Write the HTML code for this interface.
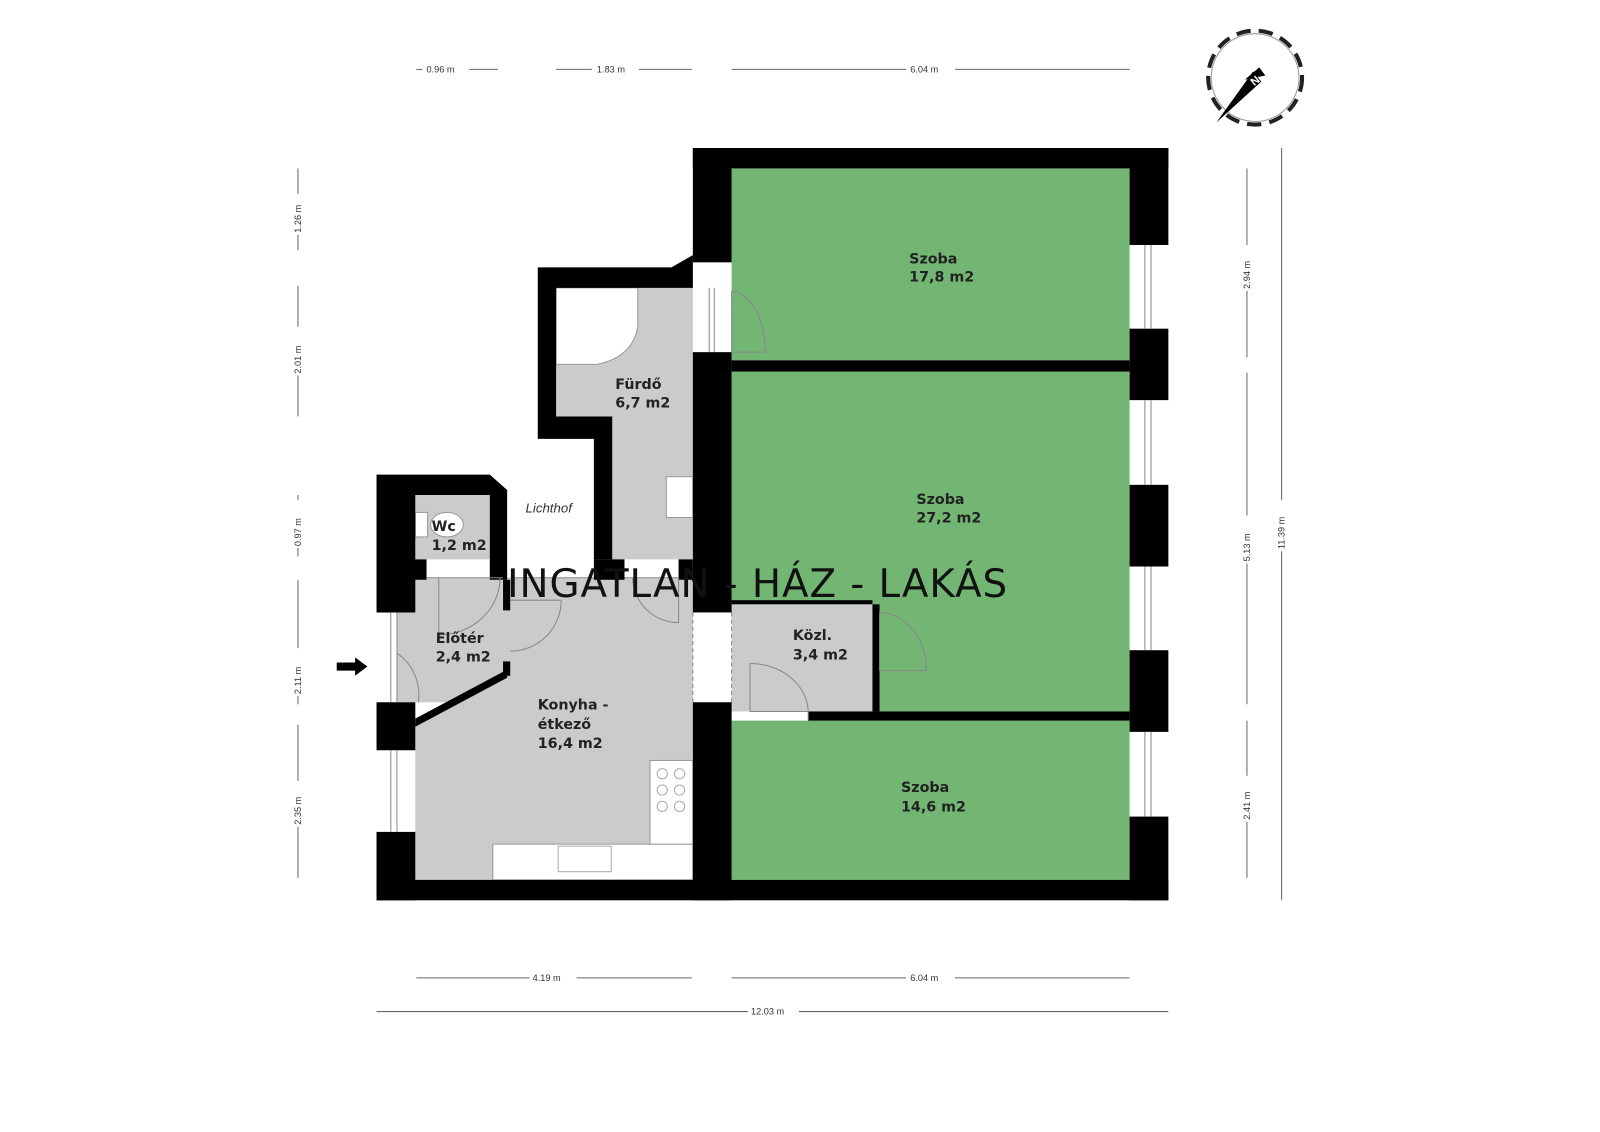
<!DOCTYPE html>
<html><head><meta charset="utf-8"><style>
html,body{margin:0;padding:0;background:#fff;}
svg{display:block;}
.dim{font-family:"Liberation Sans",sans-serif;font-size:9px;fill:#333;}
.lbl{font-family:"DejaVu Sans","Liberation Sans",sans-serif;font-weight:bold;font-size:14px;fill:#222;}
</style></head><body>
<svg width="1600" height="1132" viewBox="0 0 1568 1109" preserveAspectRatio="none" xmlns="http://www.w3.org/2000/svg">
<rect width="1568" height="1109" fill="#fff"/>
<!-- gray floor areas -->
<g fill="#cbcbcb">
<polygon points="545,282 679,282 679,548 600,548 600,408 545,408"/>
<polygon points="407,485 480,485 480,548 407,548"/>
<rect x="389" y="566" width="110" height="122"/>
<polygon points="497,566 679,566 679,862 407,862 407,710 497,660"/>
<rect x="717" y="592" width="138" height="105"/>
</g>
<!-- green rooms -->
<g fill="#73b673">
<rect x="717" y="165" width="390" height="188"/>
<polygon points="717,364 1107,364 1107,697 862,697 862,592 717,592"/>
<rect x="717" y="706" width="390" height="156"/>
</g>
<!-- fixtures -->
<rect x="483" y="827" width="196" height="35" fill="#fff" stroke="#999" stroke-width="1"/>
<rect x="547" y="829" width="52" height="25" fill="#fff" stroke="#aaa"/>
<rect x="637" y="745" width="42" height="82" fill="#fff" stroke="#999"/>
<g fill="none" stroke="#aaa"><circle cx="649" cy="758" r="5"/><circle cx="666" cy="758" r="5"/><circle cx="649" cy="774" r="5"/><circle cx="666" cy="774" r="5"/><circle cx="649" cy="790" r="5"/><circle cx="666" cy="790" r="5"/></g>
<path d="M545,282 L625,282 L625,320 Q620,350 585,357 L545,357 Z" fill="#fff" stroke="#999"/>
<rect x="653" y="467" width="26" height="40" fill="#fff" stroke="#999"/>
<ellipse cx="438" cy="514" rx="16" ry="12" fill="#fff" stroke="#999"/>
<rect x="407" y="502" width="12" height="24" fill="#fff" stroke="#999"/>
<!-- walls -->
<g fill="#000">
<rect x="679" y="145" width="466" height="20"/>
<rect x="679" y="145" width="38" height="112"/>
<polygon points="527,262 658,262 679,250 679,282 545,282 545,408 600,408 600,548 582,548 582,430 527,430"/>
<rect x="679" y="345" width="38" height="255"/>
<rect x="679" y="688" width="38" height="194"/>
<rect x="369" y="862" width="776" height="20"/>
<rect x="1107" y="145" width="38" height="95"/>
<rect x="1107" y="322" width="38" height="70"/>
<rect x="1107" y="475" width="38" height="80"/>
<rect x="1107" y="637" width="38" height="80"/>
<rect x="1107" y="800" width="38" height="82"/>
<rect x="717" y="353" width="390" height="11"/>
<rect x="792" y="697" width="315" height="9"/>
<rect x="855" y="592" width="7" height="105"/>
<rect x="717" y="588" width="138" height="4"/>
<polygon points="369,465 480,465 497,480 497,568 480,568 480,485 407,485 407,548 418,548 418,568 407,568 407,600 369,600"/>
<rect x="582" y="548" width="30" height="20"/>
<rect x="665" y="548" width="14" height="20"/>
<rect x="493" y="568" width="7" height="30"/>
<rect x="493" y="648" width="7" height="14"/>
<polygon points="407,704 497,656 497,664 407,712"/>
<rect x="369" y="688" width="38" height="47"/>
<rect x="369" y="815" width="38" height="67"/>
</g>
<!-- windows -->
<g stroke="#888" stroke-width="1" fill="none">
<line x1="1122" y1="240" x2="1122" y2="322"/><line x1="1128" y1="240" x2="1128" y2="322"/>
<line x1="1122" y1="392" x2="1122" y2="475"/><line x1="1128" y1="392" x2="1128" y2="475"/>
<line x1="1122" y1="555" x2="1122" y2="637"/><line x1="1128" y1="555" x2="1128" y2="637"/>
<line x1="1122" y1="717" x2="1122" y2="800"/><line x1="1128" y1="717" x2="1128" y2="800"/>
<line x1="383" y1="735" x2="383" y2="815"/><line x1="389" y1="735" x2="389" y2="815"/>
<line x1="383" y1="600" x2="383" y2="688"/><line x1="389" y1="600" x2="389" y2="688"/>
<line x1="418" y1="566" x2="493" y2="566"/><line x1="500" y1="566" x2="582" y2="566"/><line x1="612" y1="566" x2="665" y2="566"/>
<line x1="679" y1="600" x2="679" y2="688" stroke-dasharray="4,3"/><line x1="717" y1="600" x2="717" y2="688" stroke-dasharray="4,3"/>
<line x1="695" y1="282" x2="695" y2="345"/><line x1="700" y1="282" x2="700" y2="345"/>
<!-- door arcs -->
<path d="M717,285 L717,345 L750,345 A 35 60 0 0 0 717,285"/>
<path d="M862,600 L862,657 L908,657 A 46 57 0 0 0 862,600"/>
<path d="M735,650 L735,697 L792,697 L792,705 M735,650 A 57 48 0 0 1 792,697"/>
<path d="M430,566 L430,622 M430,622 A 60 56 0 0 0 490,566"/>
<path d="M500,588 L550,588 A 50 50 0 0 1 500,638"/>
<path d="M620,566 A 45 45 0 0 0 665,610 L665,566"/>
<path d="M389,640 A 45 48 0 0 1 410,688"/>
</g>
<!-- labels -->
<text class="lbl" x="891" y="258">Szoba</text><text class="lbl" x="891" y="276">17,8 m2</text>
<text class="lbl" x="603" y="381">Fürdő</text><text class="lbl" x="603" y="399">6,7 m2</text>
<text class="lbl" x="898" y="494">Szoba</text><text class="lbl" x="898" y="512">27,2 m2</text>
<text class="lbl" x="423" y="520" font-size="13">Wc</text><text class="lbl" x="423" y="539">1,2 m2</text>
<text class="lbl" x="427" y="630">Előtér</text><text class="lbl" x="427" y="648">2,4 m2</text>
<text class="lbl" x="777" y="627">Közl.</text><text class="lbl" x="777" y="646">3,4 m2</text>
<text class="lbl" x="527" y="695">Konyha -</text><text class="lbl" x="527" y="714">étkező</text><text class="lbl" x="527" y="733">16,4 m2</text>
<text class="lbl" x="883" y="776">Szoba</text><text class="lbl" x="883" y="795">14,6 m2</text>
<text x="515" y="502" font-family="Liberation Sans,sans-serif" font-style="italic" font-size="13" fill="#333">Lichthof</text>
<text x="497" y="585" font-family="DejaVu Sans,Liberation Sans,sans-serif" font-size="38" fill="#111" textLength="490">INGATLAN - HÁZ - LAKÁS</text>
<!-- entrance arrow -->
<polygon points="330,649 348,649 348,644 360,653 348,662 348,657 330,657" fill="#000"/>
<!-- dimensions -->
<g stroke="#666" stroke-width="1">
<line x1="408" y1="68" x2="414" y2="68"/><line x1="460" y1="68" x2="488" y2="68"/>
<line x1="545" y1="68" x2="580" y2="68"/><line x1="626" y1="68" x2="678" y2="68"/>
<line x1="717" y1="68" x2="888" y2="68"/><line x1="936" y1="68" x2="1107" y2="68"/>
<line x1="408" y1="958" x2="519" y2="958"/><line x1="565" y1="958" x2="678" y2="958"/>
<line x1="717" y1="958" x2="888" y2="958"/><line x1="936" y1="958" x2="1107" y2="958"/>
<line x1="369" y1="991" x2="733" y2="991"/><line x1="783" y1="991" x2="1145" y2="991"/>
<line x1="292" y1="165" x2="292" y2="190"/><line x1="292" y1="230" x2="292" y2="245"/>
<line x1="292" y1="280" x2="292" y2="320"/><line x1="292" y1="368" x2="292" y2="408"/>
<line x1="292" y1="485" x2="292" y2="490"/><line x1="292" y1="537" x2="292" y2="545"/>
<line x1="292" y1="568" x2="292" y2="635"/><line x1="292" y1="682" x2="292" y2="690"/>
<line x1="292" y1="710" x2="292" y2="765"/><line x1="292" y1="810" x2="292" y2="860"/>
<line x1="1222" y1="165" x2="1222" y2="240"/><line x1="1222" y1="285" x2="1222" y2="350"/>
<line x1="1222" y1="365" x2="1222" y2="505"/><line x1="1222" y1="552" x2="1222" y2="690"/>
<line x1="1222" y1="706" x2="1222" y2="760"/><line x1="1222" y1="805" x2="1222" y2="860"/>
<line x1="1256" y1="145" x2="1256" y2="490"/><line x1="1256" y1="540" x2="1256" y2="882"/>
</g>
<g class="dim">
<text x="418" y="71">0.96 m</text><text x="585" y="71">1.83 m</text><text x="892" y="71">6.04 m</text>
<text x="522" y="961">4.19 m</text><text x="892" y="961">6.04 m</text><text x="736" y="994">12.03 m</text>
<text transform="translate(295,228) rotate(-90)">1.26 m</text>
<text transform="translate(295,366) rotate(-90)">2.01 m</text>
<text transform="translate(295,535) rotate(-90)">0.97 m</text>
<text transform="translate(295,680) rotate(-90)">2.11 m</text>
<text transform="translate(295,808) rotate(-90)">2.35 m</text>
<text transform="translate(1225,283) rotate(-90)">2.94 m</text>
<text transform="translate(1225,550) rotate(-90)">5.13 m</text>
<text transform="translate(1225,803) rotate(-90)">2.41 m</text>
<text transform="translate(1259,538) rotate(-90)">11.39 m</text>
</g>
<!-- compass -->
<g transform="translate(1230,76)">
<circle r="46" fill="none" stroke="#222" stroke-width="4" stroke-dasharray="14,8"/>
<circle r="43" fill="none" stroke="#999" stroke-width="1"/>
<polygon points="-38,44 -2,-6 6,4" fill="#000"/>
<polygon points="-10,2 4,-10 10,-2" fill="#000"/>
<text x="-6" y="6" font-family="Liberation Sans,sans-serif" font-weight="bold" font-size="11" fill="#fff" transform="rotate(-40)">N</text>
</g>
</svg>
</body></html>
